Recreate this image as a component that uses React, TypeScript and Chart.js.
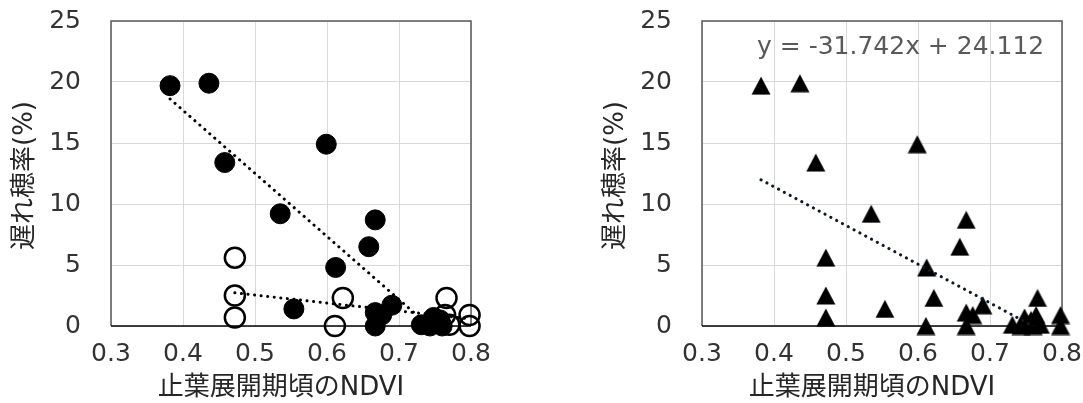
import React, { useEffect, useRef } from "react";
import { Chart, registerables } from "chart.js";

Chart.register(...registerables);

// ---- data ----
const ndviFilled = [0.382, 0.436, 0.458, 0.535, 0.599, 0.612, 0.554, 0.658, 0.667, 0.667, 0.676, 0.667, 0.69, 0.731, 0.743, 0.748, 0.752, 0.757, 0.76];
const lateFilled = [19.7, 19.9, 13.4, 9.2, 14.9, 4.8, 1.4, 6.5, 8.7, 1.1, 0.9, 0, 1.7, 0.1, 0, 0.7, 0.2, 0.5, 0];
const ndviOpen = [0.472, 0.472, 0.472, 0.611, 0.622, 0.766, 0.764, 0.77, 0.798, 0.798];
const lateOpen = [5.6, 2.5, 0.7, 0, 2.3, 2.3, 0.9, 0.1, 0.9, 0];

const xTickValues = [0.3, 0.4, 0.5, 0.6, 0.7, 0.8];
const yTickValues = [0, 5, 10, 15, 20, 25];
const xTitle = "止葉展開期頃のNDVI";
const yTitle = "遅れ穂率(%)";
const eqSlope = -31.742;
const eqIntercept = 24.112;
const eqText = "y = -31.742x + 24.112";

const FONT = "'DejaVu Sans', 'Noto Sans CJK JP', sans-serif";

function pts(xs: number[], ys: number[]) {
  return xs.map((x, i) => ({ x, y: ys[i] }));
}

function fit(xs: number[], ys: number[]) {
  const n = xs.length;
  const mx = xs.reduce((a, b) => a + b, 0) / n;
  const my = ys.reduce((a, b) => a + b, 0) / n;
  let sxy = 0, sxx = 0;
  for (let i = 0; i < n; i++) {
    sxy += (xs[i] - mx) * (ys[i] - my);
    sxx += (xs[i] - mx) * (xs[i] - mx);
  }
  const slope = sxy / sxx;
  return { slope, intercept: my - slope * mx };
}

function trendLine(xs: number[], slope: number, intercept: number) {
  const x0 = Math.min(...xs);
  const x1 = Math.max(...xs);
  return [
    { x: x0, y: slope * x0 + intercept },
    { x: x1, y: slope * x1 + intercept },
  ];
}

function makeTriangle(): HTMLCanvasElement {
  const c = document.createElement("canvas");
  c.width = 20;
  c.height = 19;
  const g = c.getContext("2d")!;
  g.fillStyle = "#000";
  g.beginPath();
  g.moveTo(10, 0.5);
  g.lineTo(19.5, 18.5);
  g.lineTo(0.5, 18.5);
  g.closePath();
  g.fill();
  return c;
}

const framePlugin = {
  id: "frame",
  beforeDatasetsDraw(chart: any) {
    const { ctx, chartArea: a } = chart;
    ctx.save();
    ctx.lineWidth = 1.5;
    ctx.strokeStyle = "#595959";
    ctx.beginPath();
    ctx.moveTo(a.left, a.bottom);
    ctx.lineTo(a.left, a.top);
    ctx.lineTo(a.right, a.top);
    ctx.lineTo(a.right, a.bottom);
    ctx.stroke();
    ctx.strokeStyle = "#000";
    ctx.beginPath();
    ctx.moveTo(a.left, a.bottom);
    ctx.lineTo(a.right, a.bottom);
    ctx.stroke();
    ctx.restore();
  },
};

function makeTitlePlugin(equation?: string) {
  return {
    id: "titles",
    afterDraw(chart: any) {
      const { ctx, chartArea: a } = chart;
      ctx.save();
      ctx.fillStyle = "#262626";
      ctx.font = `26px ${FONT}`;
      ctx.textAlign = "center";
      ctx.textBaseline = "middle";
      ctx.fillText(xTitle, (a.left + a.right) / 2 - 10, 388);
      ctx.save();
      ctx.translate(a.left - 86, (a.top + a.bottom) / 2 + 2);
      ctx.rotate(-Math.PI / 2);
      ctx.fillText(yTitle, 0, 0);
      ctx.restore();
      if (equation) {
        ctx.fillStyle = "#595959";
        ctx.font = `25px ${FONT}`;
        ctx.textAlign = "left";
        ctx.fillText(equation, a.left + 55, 47);
      }
      ctx.restore();
    },
  };
}

function buildOptions(yWidth: number, padRight: number): any {
  return {
    responsive: false,
    animation: false,
    devicePixelRatio: 1,
    layout: { padding: { left: 0, top: 21, right: padRight, bottom: 0 } },
    plugins: { legend: { display: false }, tooltip: { enabled: false } },
    scales: {
      x: {
        type: "linear",
        min: xTickValues[0],
        max: xTickValues[xTickValues.length - 1],
        afterBuildTicks: (s: any) => {
          s.ticks = xTickValues.map((v) => ({ value: v }));
        },
        afterFit: (s: any) => {
          s.height = 77;
          s.paddingLeft = 0;
          s.paddingRight = 0;
          s.paddingTop = 0;
          s.paddingBottom = 0;
        },
        grid: { color: "#d9d9d9", lineWidth: 1, drawTicks: false },
        border: { display: false },
        ticks: {
          autoSkip: false,
          maxRotation: 0,
          padding: 13,
          color: "#333333",
          font: { family: FONT, size: 25 },
          callback: (v: any) => Number(v).toFixed(1),
        },
      },
      y: {
        type: "linear",
        min: yTickValues[0],
        max: yTickValues[yTickValues.length - 1],
        afterBuildTicks: (s: any) => {
          s.ticks = yTickValues.map((v) => ({ value: v }));
        },
        afterFit: (s: any) => {
          s.width = yWidth;
          s.paddingLeft = 0;
          s.paddingRight = 0;
          s.paddingTop = 0;
          s.paddingBottom = 0;
        },
        grid: { color: "#d9d9d9", lineWidth: 1, drawTicks: false },
        border: { display: false },
        ticks: {
          padding: 30,
          color: "#333333",
          font: { family: FONT, size: 25 },
          callback: (v: any) => String(v),
        },
      },
    },
  };
}

function LeftChart() {
  const ref = useRef<HTMLCanvasElement>(null);
  useEffect(() => {
    const fFit = fit(ndviFilled, lateFilled);
    const oFit = fit(ndviOpen, lateOpen);
    const chart = new Chart(ref.current!, {
      type: "scatter",
      data: {
        datasets: [
          {
            type: "line",
            data: trendLine(ndviFilled, fFit.slope, fFit.intercept),
            borderColor: "#000",
            borderWidth: 3,
            borderDash: [0.1, 6.5],
            borderCapStyle: "round",
            pointRadius: 0,
            fill: false,
          } as any,
          {
            type: "line",
            data: trendLine(ndviOpen, oFit.slope, oFit.intercept),
            borderColor: "#000",
            borderWidth: 3,
            borderDash: [0.1, 6.5],
            borderCapStyle: "round",
            pointRadius: 0,
            fill: false,
          } as any,
          {
            data: pts(ndviOpen, lateOpen),
            pointRadius: 10,
            pointBorderWidth: 2.5,
            pointBackgroundColor: "rgba(0,0,0,0)",
            pointBorderColor: "#000",
            clip: false,
          } as any,
          {
            data: pts(ndviFilled, lateFilled),
            pointRadius: 10,
            pointBorderWidth: 1,
            pointBackgroundColor: "#000",
            pointBorderColor: "#000",
            clip: false,
          } as any,
        ],
      },
      options: buildOptions(111, 70),
      plugins: [framePlugin, makeTitlePlugin()],
    });
    return () => chart.destroy();
  }, []);
  return (
    <canvas
      ref={ref}
      width={541}
      height={403}
      style={{ position: "absolute", left: 0, top: 0, width: 541, height: 403 }}
    />
  );
}

function RightChart() {
  const ref = useRef<HTMLCanvasElement>(null);
  useEffect(() => {
    const allX = [...ndviFilled, ...ndviOpen];
    const allY = [...lateFilled, ...lateOpen];
    const tri = makeTriangle();
    const chart = new Chart(ref.current!, {
      type: "scatter",
      data: {
        datasets: [
          {
            type: "line",
            data: trendLine(allX, eqSlope, eqIntercept),
            borderColor: "#0d1a26",
            borderWidth: 3,
            borderDash: [0.1, 6.5],
            borderCapStyle: "round",
            pointRadius: 0,
            fill: false,
          } as any,
          {
            data: pts(allX, allY),
            pointStyle: tri,
            pointRadius: 10,
            clip: false,
          } as any,
        ],
      },
      options: buildOptions(161, 21),
      plugins: [framePlugin, makeTitlePlugin(eqText)],
    });
    return () => chart.destroy();
  }, []);
  return (
    <canvas
      ref={ref}
      width={542}
      height={403}
      style={{ position: "absolute", left: 541, top: 0, width: 542, height: 403 }}
    />
  );
}

export default function App() {
  return (
    <div
      style={{
        position: "absolute",
        left: 0,
        top: 0,
        width: 1083,
        height: 403,
        background: "#fff",
        overflow: "hidden",
      }}
    >
      <LeftChart />
      <RightChart />
    </div>
  );
}
